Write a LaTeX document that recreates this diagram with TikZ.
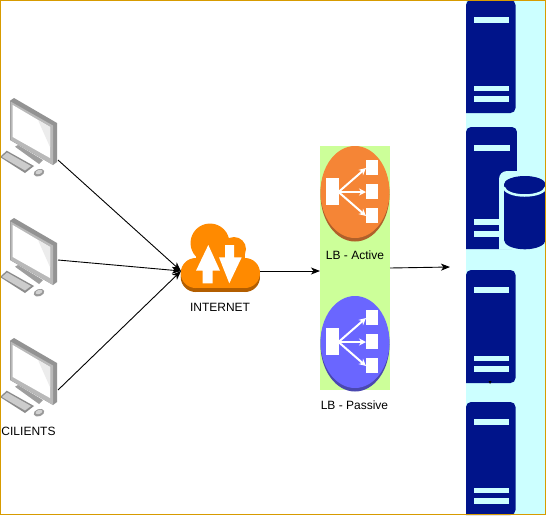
\documentclass[tikz,border=0pt]{standalone}
\usepackage{xcolor}
\usepackage{fontspec}
\setmainfont{Liberation Sans}
\usetikzlibrary{arrows.meta,positioning}

\definecolor{framecol}{HTML}{D79B00}
\definecolor{farmcol}{HTML}{CCFFFF}
\definecolor{navycol}{HTML}{00148A}
\definecolor{lbcol}{HTML}{CCFF99}
\definecolor{cloudcol}{HTML}{FF8A00}
\definecolor{clouddark}{HTML}{B35E00}
\definecolor{activecol}{HTML}{F58536}
\definecolor{activedark}{HTML}{B0602A}
\definecolor{passivecol}{HTML}{6A66FF}
\definecolor{passivedark}{HTML}{4A48B0}

\tikzset{
	hook/.style={minimum width=#1,minimum height=60pt,inner sep=0pt,outer sep=0pt},
	caption/.style={font=\fontsize{12}{14}\selectfont,inner sep=0pt},
	pics/desktop/.style={code={
		\fill[gray!85] (10,0.7) -- (14,-2) -- (57,23) -- (57,62) -- (53,65) -- (10,40) -- cycle;
		\fill[gray!55] (10.5,1.5) -- (53,25.5) -- (53,65) -- (10.5,40) -- cycle;
		\fill[white] (12.7,5) -- (50,27) -- (50,58) -- (12.7,37) -- cycle;
		\fill[gray!15] (38,20) -- (50,27) -- (50,47) -- cycle;
		\fill[gray!75] (15,46.7) -- (18,45) -- (43,60) -- (39,64) -- cycle;
		\fill[gray!90] (0,57) -- (6.7,50.7) -- (34,66) -- (25,73) -- cycle;
		\fill[gray!40] (2,57) -- (7,52.5) -- (31,66) -- (25,70.5) -- cycle;
		\fill[gray!80,rotate around={20:(39,72.7)}] (39,72.7) ellipse [x radius=5.5,y radius=3.6];
		\fill[gray!35,rotate around={20:(39,72)}] (39,72) ellipse [x radius=3.6,y radius=2];
	}},
	pics/server/.style={code={
		\fill[navycol,rounded corners=5pt] (0,113) -- (0,0) -- (49.5,0) -- (49.5,113) [sharp corners] -- cycle;
		\fill[farmcol] (7.5,17) rectangle (42.5,22.5);
		\fill[farmcol] (7.5,85.5) rectangle (42.5,91);
		\fill[farmcol] (7.5,96) rectangle (42.5,102);
	}},
	pics/balancer/.style 2 args={code={
		\fill[#2] (0,2.5) ellipse [x radius=34.5,y radius=47];
		\fill[#1] (0,0) ellipse [x radius=34.5,y radius=46];
		\fill[white] (-29,-14) rectangle (-16.5,12.5);
		\fill[white] (11,-32) rectangle (22.5,-17);
		\fill[white] (11,-8) rectangle (22.5,7);
		\fill[white] (11,16) rectangle (22.5,31);
		\draw[white,line width=2pt,-{Stealth[length=7pt,width=7pt]}] (-16.5,0) -- (11,-24);
		\draw[white,line width=2pt,-{Stealth[length=7pt,width=7pt]}] (-16.5,0) -- (11,0);
		\draw[white,line width=2pt,-{Stealth[length=7pt,width=7pt]}] (-16.5,0) -- (11,24);
	}}
}

\begin{document}
\begin{tikzpicture}[x=1pt,y=-1pt,node distance=120pt,on grid,>={Stealth[length=9pt,width=7pt,inset=2.5pt]}]
		\useasboundingbox (0,0) rectangle (546,515);
		
		% server column
		\fill[farmcol] (466,0) rectangle (546,515);
		\pic at (466,0) {server};
		\pic[xscale=1.03,yscale=1.08] at (466,127) {server};
		\pic at (466,270) {server};
		\pic at (466,402) {server};
		\fill[black] (488.5,381) -- (491.5,381) -- (490,384) -- cycle;
		
		% database
		\fill[farmcol,rounded corners=8pt] (499,249.5) -- (499,171) -- (546,171) -- (546,249.5) [sharp corners] -- cycle;
		\fill[navycol] (504,184.5) -- (504,240) arc [start angle=180,end angle=0,x radius=20.8,y radius=9.3] -- (545.6,184.5) arc [start angle=0,end angle=-180,x radius=20.8,y radius=8.5] -- cycle;
		\draw[farmcol,line width=2.5pt] (504,187) arc [start angle=180,end angle=0,x radius=20.8,y radius=8.5];
		\fill[navycol] (524.8,184.5) ellipse [x radius=20.8,y radius=8];
		
		% clients
		\node[hook=58pt] (pc1) at (29,130) {};
		\node[hook=58pt] (pc2) [below of=pc1] {};
		\node[hook=58pt] (pc3) [below of=pc2] {};
		\pic at (pc1.north west) {desktop};
		\pic at (pc2.north west) {desktop};
		\pic at (pc3.north west) {desktop};
		\node[caption] (clients) at (28.5,431) {CILIENTS};
		
		% internet
		\node[hook=79pt] (cloud) at (220.5,271) {};
		\fill[clouddark] (195.7,277) circle (15);
		\fill[clouddark] (245,277) circle (15);
		\fill[clouddark] (196,262) rectangle (245,292);
		\fill[cloudcol] (195.7,273) circle (15);
		\fill[cloudcol] (245,273) circle (15);
		\fill[cloudcol] (210,243) circle (19.5);
		\fill[cloudcol] (234,249) circle (12);
		\fill[cloudcol] (196,250) rectangle (245,288);
		\fill[white] (208.3,245) -- (196,270.7) -- (202.7,270.7) -- (202.7,283.3) -- (212.7,283.3) -- (212.7,270.7) -- (220,270.7) -- cycle;
		\fill[white] (225,245) -- (234,245) -- (234,257.3) -- (241.7,257.3) -- (229.3,283.3) -- (219,257.3) -- (225,257.3) -- cycle;
		\node[caption] (inet) at (220,307.5) {INTERNET};
		
		% load balancers
		\node[fill=lbcol,minimum width=70pt,minimum height=244pt,inner sep=0pt,outer sep=0pt] (lbs) at (355,268) {};
		\pic at (355,192) {balancer={activecol}{activedark}};
		\pic at (355,342) {balancer={passivecol}{passivedark}};
		\node[caption] (active) at (355,255) {LB - Active};
		\node[caption] (passive) at (354.5,405) {LB - Passive};
		\coordinate (farm) at (450,267);
		
		\path[->,line width=0.9pt]
		(pc1.south east) edge (cloud.west)
		([yshift=-10pt]pc2.east) edge (cloud.west)
		([yshift=-20pt]pc3.east) edge (cloud.west)
		(cloud.east) edge (cloud.east -| lbs.west)
		(lbs.east) edge (farm);
		
		\draw[framecol] (0.5,0.5) rectangle (545.5,514.5);
\end{tikzpicture}
\end{document}
